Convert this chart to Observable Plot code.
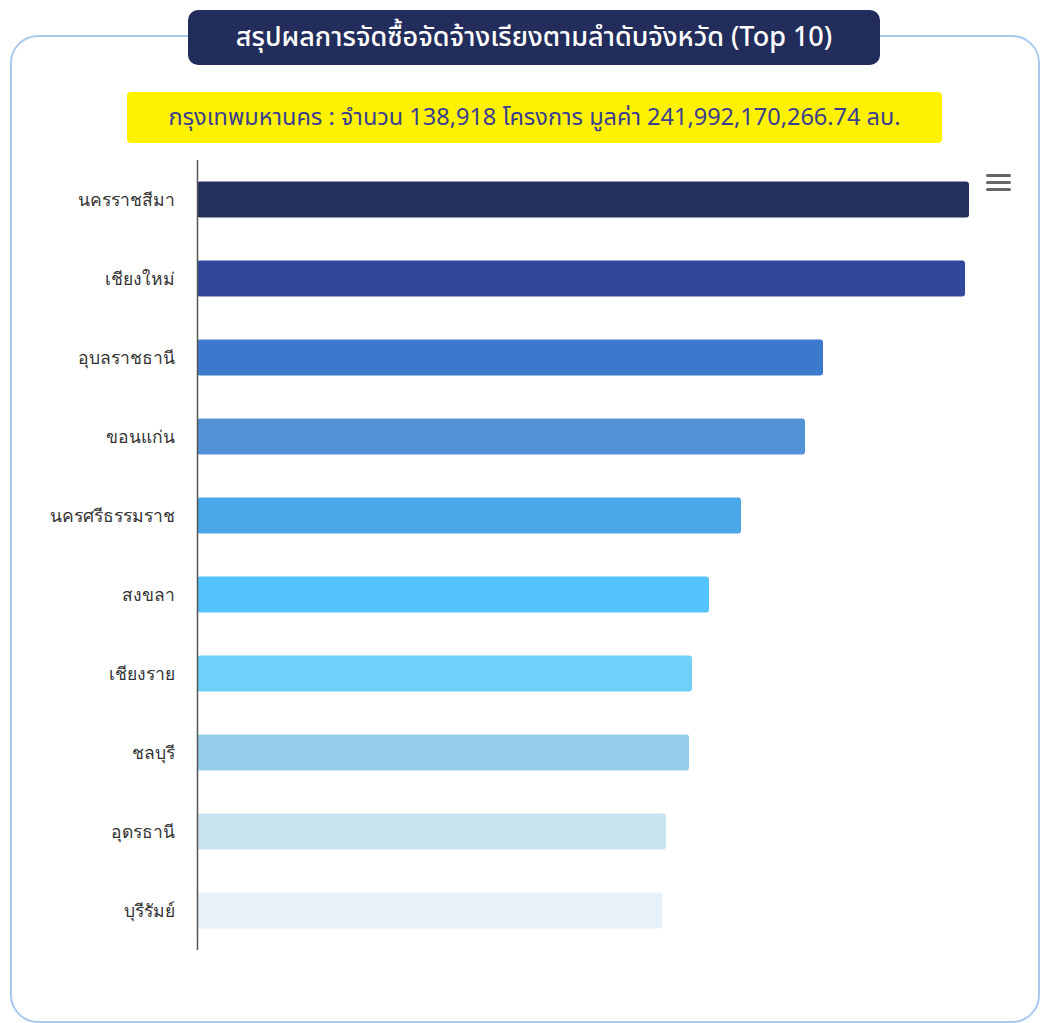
<!DOCTYPE html>
<html>
<head>
<meta charset="utf-8">
<script src="https://cdn.jsdelivr.net/npm/d3@7"></script>
<script src="https://cdn.jsdelivr.net/npm/@observablehq/plot@0.6"></script>
<style>
  html, body { margin: 0; padding: 0; background: #fff; width: 1049px; height: 1023px; overflow: hidden; font-family: "Noto Sans", "Noto Sans Thai", sans-serif; }
  #panel { position: absolute; left: 10px; top: 35px; width: 1030px; height: 988px; border: 2px solid #a9c9ef; border-radius: 28px; box-sizing: border-box; }
  #title { position: absolute; left: 188px; top: 10px; width: 692px; height: 55px; background: #232d5b; border-radius: 10px; color: #fff; font-size: 27px; font-weight: 500; display: flex; align-items: center; justify-content: center; white-space: nowrap; }
  #sub { position: absolute; left: 127px; top: 92px; width: 815px; height: 51px; background: #fff200; border-radius: 4px; color: #3b3f8f; font-size: 23.5px; display: flex; align-items: center; justify-content: center; white-space: nowrap; }
  #chart { position: absolute; left: 0; top: 150px; }
  #menu { position: absolute; left: 986px; top: 174px; width: 25px; }
  #menu div { height: 3px; background: #666; border-radius: 2px; margin-bottom: 4px; }
</style>
</head>
<body>
<div id="panel"></div>
<div id="title">สรุปผลการจัดซื้อจัดจ้างเรียงตามลำดับจังหวัด (Top 10)</div>
<div id="sub">กรุงเทพมหานคร : จำนวน 138,918 โครงการ มูลค่า 241,992,170,266.74 ลบ.</div>
<div id="chart"></div>
<div id="menu"><div></div><div></div><div></div></div>
<script>
const provinces = ["นครราชสีมา","เชียงใหม่","อุบลราชธานี","ขอนแก่น","นครศรีธรรมราช","สงขลา","เชียงราย","ชลบุรี","อุดรธานี","บุรีรัมย์"];
const values = [772, 768, 626, 608, 544, 512, 495, 492, 469, 465];
const colors = ["#252f5f","#30479c","#3c78cc","#5191d5","#4aa8e8","#54c3fb","#6fd1fa","#97cdea","#c7e3ef","#e6f1f9"];

const data = provinces.map((p, i) => ({province: p, value: values[i], color: colors[i]}));

const chart = Plot.plot({
  width: 1049,
  height: 810,
  marginTop: 10,
  marginBottom: 10,
  marginLeft: 197,
  marginRight: 80,
  style: {fontSize: "17.5px", fontFamily: "'Noto Sans', sans-serif", color: "#333", background: "transparent"},
  x: {domain: [0, 772], axis: null},
  y: {domain: provinces, padding: 0, label: null, tickSize: 0, tickPadding: 23},
  marks: [
    Plot.barX(data, {y: "province", x: "value", fill: "color", insetTop: 21.5, insetBottom: 21.5, rx: 3}),
    Plot.ruleX([0], {stroke: "#555", strokeWidth: 1.5})
  ]
});
document.getElementById("chart").appendChild(chart);
</script>
</body>
</html>
